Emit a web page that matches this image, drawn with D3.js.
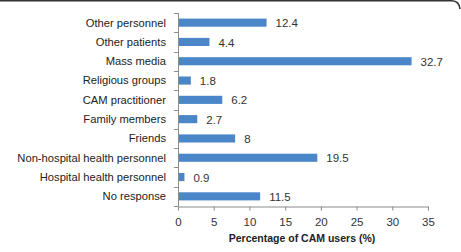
<!DOCTYPE html>
<html>
<head>
<meta charset="utf-8">
<script src="https://cdn.jsdelivr.net/npm/d3@7"></script>
<style>
  body { margin: 0; background: #fff; }
  svg { display: block; }
  text { font-family: "Liberation Sans", Arial, sans-serif; }
</style>
</head>
<body>
<figure id="bar" style="margin:0"></figure>
<script>
// data, top to bottom
const categories = ["Other personnel", "Other patients", "Mass media", "Religious groups",
  "CAM practitioner", "Family members", "Friends", "Non-hospital health personnel",
  "Hospital health personnel", "No response"];
const values = [12.4, 4.4, 32.7, 1.8, 6.2, 2.7, 8, 19.5, 0.9, 11.5];
const xTicks = [0, 5, 10, 15, 20, 25, 30, 35];
const xTitle = "Percentage of CAM users (%)";

const W = 461, H = 252;
const margin = {left: 178, top: 13, right: 33, bottom: 46};
const width = W - margin.left - margin.right;
const height = H - margin.top - margin.bottom;

const svg = d3.select("figure#bar")
  .append("svg")
  .attr("width", W)
  .attr("height", H);

// frame line at the top, rounded at the right
svg.append("path")
  .attr("d", "M0,0.8 L452,0.8 Q459,1 460,9")
  .attr("fill", "none")
  .attr("stroke", "#333")
  .attr("stroke-width", 1.6);

const g = svg.append("g")
  .attr("transform", "translate(" + margin.left + "," + margin.top + ")");

const x = d3.scaleLinear().domain([0, 35]).range([0, width]);
const y = d3.scaleBand().domain(categories).range([0, height]).paddingInner(0.58).paddingOuter(0.29);

const axisColor = "#8c8c8c";

// y axis: line plus ticks at band boundaries
g.append("line")
  .attr("x1", 0.5).attr("x2", 0.5)
  .attr("y1", 0).attr("y2", height)
  .attr("stroke", axisColor);
const step = y.step();
d3.range(categories.length + 1).forEach(i => {
  g.append("line")
    .attr("x1", -4).attr("x2", 0.5)
    .attr("y1", Math.round(i * step) + 0.5).attr("y2", Math.round(i * step) + 0.5)
    .attr("stroke", axisColor);
});

// category labels
g.selectAll(".cat")
  .data(categories)
  .enter()
  .append("text")
  .attr("x", -12)
  .attr("y", d => y(d) + y.bandwidth() / 2)
  .attr("dy", "0.35em")
  .attr("text-anchor", "end")
  .attr("font-size", 11.2)
  .attr("fill", "#222")
  .text(d => d);

// x axis
const xAxis = g.append("g")
  .attr("transform", "translate(0," + (height + 0.5) + ")")
  .call(d3.axisBottom(x).tickValues(xTicks).tickSize(4).tickSizeOuter(0));
xAxis.select(".domain").attr("stroke", axisColor);
xAxis.selectAll(".tick line").attr("stroke", axisColor);
xAxis.selectAll(".tick text")
  .attr("font-family", "Liberation Sans, Arial, sans-serif")
  .attr("font-size", 11.5)
  .attr("fill", "#333")
  .attr("dy", "1.05em");

g.append("text")
  .attr("x", width / 2 - 1)
  .attr("y", height + 36)
  .attr("text-anchor", "middle")
  .attr("font-size", 10.5)
  .attr("font-weight", "bold")
  .attr("fill", "#222")
  .text(xTitle);

// bars
g.selectAll(".bar")
  .data(values)
  .enter()
  .append("rect")
  .attr("x", 1)
  .attr("y", (d, i) => y(categories[i]))
  .attr("width", d => x(d) - 1)
  .attr("height", y.bandwidth())
  .attr("fill", "#4a86c8");

// value labels
g.selectAll(".val")
  .data(values)
  .enter()
  .append("text")
  .attr("x", d => x(d) + 9)
  .attr("y", (d, i) => y(categories[i]) + y.bandwidth() / 2)
  .attr("dy", "0.4em")
  .attr("font-size", 11.5)
  .attr("fill", "#333")
  .text(d => d);
</script>
</body>
</html>
